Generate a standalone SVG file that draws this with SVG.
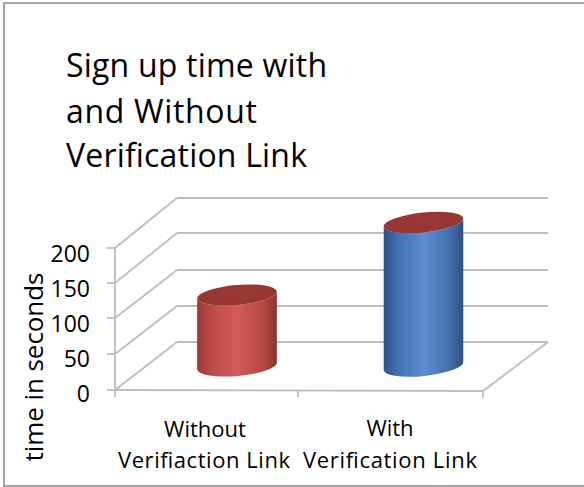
<svg xmlns="http://www.w3.org/2000/svg" width="584" height="487" viewBox="0 0 584 487">
<style>
  .txt { font-family: "Open Sans", "Liberation Sans", sans-serif; fill: #000; }
  .title { font-size: 32px; }
  .tick { font-size: 23px; text-anchor: end; }
  .cat { font-size: 22px; text-anchor: middle; }
  .grid { stroke: #bdbdbd; stroke-width: 1.8; fill: none; }
  .frame { stroke: #8a8a8a; stroke-width: 1.6; fill: none; }
</style>
<defs>
  <linearGradient id="redBody" x1="0" y1="0" x2="1" y2="0">
    <stop offset="0" stop-color="#9a3936"/>
    <stop offset="0.18" stop-color="#bb4a47"/>
    <stop offset="0.5" stop-color="#d15b58"/>
    <stop offset="0.82" stop-color="#b84744"/>
    <stop offset="1" stop-color="#8c3331"/>
  </linearGradient>
  <linearGradient id="blueBody" x1="0" y1="0" x2="1" y2="0">
    <stop offset="0" stop-color="#2e5387"/>
    <stop offset="0.2" stop-color="#4473b3"/>
    <stop offset="0.5" stop-color="#5b8ed1"/>
    <stop offset="0.82" stop-color="#4470ad"/>
    <stop offset="1" stop-color="#2f5183"/>
  </linearGradient>
  <radialGradient id="redTop" cx="0.5" cy="0.5" r="0.6">
    <stop offset="0" stop-color="#9a3936"/>
    <stop offset="0.85" stop-color="#963633"/>
    <stop offset="1" stop-color="#a8433f"/>
  </radialGradient>
</defs>

<!-- chart frame -->
<path class="frame" d="M600,3 H4 V486 H600"/>

<!-- title -->
<g id="title">
  <text class="txt title" x="66" y="77" textLength="261" lengthAdjust="spacing">Sign up time with</text>
  <text class="txt title" x="66" y="123" textLength="191" lengthAdjust="spacing">and Without</text>
  <text class="txt title" x="66" y="167" textLength="241" lengthAdjust="spacing">Verification Link</text>
</g>

<!-- grid / walls / floor -->
<g id="connectors">
  <!-- back wall gridlines -->
  <line class="grid" x1="177" y1="198" x2="548" y2="198"/>
  <line class="grid" x1="177" y1="233" x2="548" y2="233"/>
  <line class="grid" x1="177" y1="270" x2="548" y2="270"/>
  <line class="grid" x1="177" y1="306" x2="548" y2="306"/>
  <line class="grid" x1="177" y1="342" x2="548" y2="342"/>
  <!-- side wall diagonals -->
  <line class="grid" x1="115" y1="248" x2="177" y2="198"/>
  <line class="grid" x1="115" y1="283" x2="177" y2="233"/>
  <line class="grid" x1="115" y1="318" x2="177" y2="270"/>
  <line class="grid" x1="115" y1="354" x2="177" y2="306"/>
  <line class="grid" x1="115" y1="390" x2="177" y2="342"/>
  <!-- floor -->
  <line class="grid" x1="548" y1="342" x2="483" y2="391"/>
  <line class="grid" x1="115" y1="390" x2="483" y2="391"/>
  <!-- vertical axis -->
  <line class="grid" x1="115" y1="248" x2="115" y2="390"/>
  <!-- y ticks -->
  <line class="grid" x1="107" y1="248" x2="115" y2="248"/>
  <line class="grid" x1="107" y1="283" x2="115" y2="283"/>
  <line class="grid" x1="107" y1="318" x2="115" y2="318"/>
  <line class="grid" x1="107" y1="354" x2="115" y2="354"/>
  <line class="grid" x1="107" y1="390" x2="115" y2="390"/>
  <!-- x ticks -->
  <line class="grid" x1="115" y1="390" x2="115" y2="397"/>
  <line class="grid" x1="298" y1="390" x2="298" y2="397"/>
  <line class="grid" x1="483" y1="391" x2="483" y2="398"/>
</g>

<!-- y axis labels -->
<g id="y-labels">
  <text class="txt tick" x="90" y="262">200</text>
  <text class="txt tick" x="90" y="297">150</text>
  <text class="txt tick" x="90" y="332">100</text>
  <text class="txt tick" x="90" y="367">50</text>
  <text class="txt tick" x="90" y="402">0</text>
</g>

<!-- y axis title -->
<g id="y-title">
  <text class="txt" font-size="26" text-anchor="middle" transform="translate(43,367) rotate(-90)" textLength="189" lengthAdjust="spacing">time in seconds</text>
</g>

<!-- red cylinder: Without Verification Link -->
<g id="bar-without">
  <path fill="url(#redBody)" d="M197.15,298.5 L197.15,369.5 A40,10 -5 0 0 276.85,362.5 L276.85,291.5 A40,10 -5 0 1 197.15,298.5 Z"/>
  <ellipse cx="237" cy="295" rx="40" ry="10" transform="rotate(-5 237 295)" fill="url(#redTop)"/>
</g>

<!-- blue cylinder: With Verification Link -->
<g id="bar-with">
  <path fill="url(#blueBody)" d="M383.72,226.7 L383.72,370.2 A40,10 -6 0 0 463.28,361.8 L463.28,218.3 A40,10 -6 0 1 383.72,226.7 Z"/>
  <ellipse cx="423.5" cy="222.5" rx="40" ry="10" transform="rotate(-6 423.5 222.5)" fill="url(#redTop)"/>
</g>

<!-- category labels -->
<g id="x-labels">
  <text class="txt cat" x="205" y="437">Without</text>
  <text class="txt cat" x="204" y="468" textLength="172" lengthAdjust="spacing">Verifiaction Link</text>
  <text class="txt cat" x="390" y="436">With</text>
  <text class="txt cat" x="390" y="468" textLength="174" lengthAdjust="spacing">Verification Link</text>
</g>
</svg>
